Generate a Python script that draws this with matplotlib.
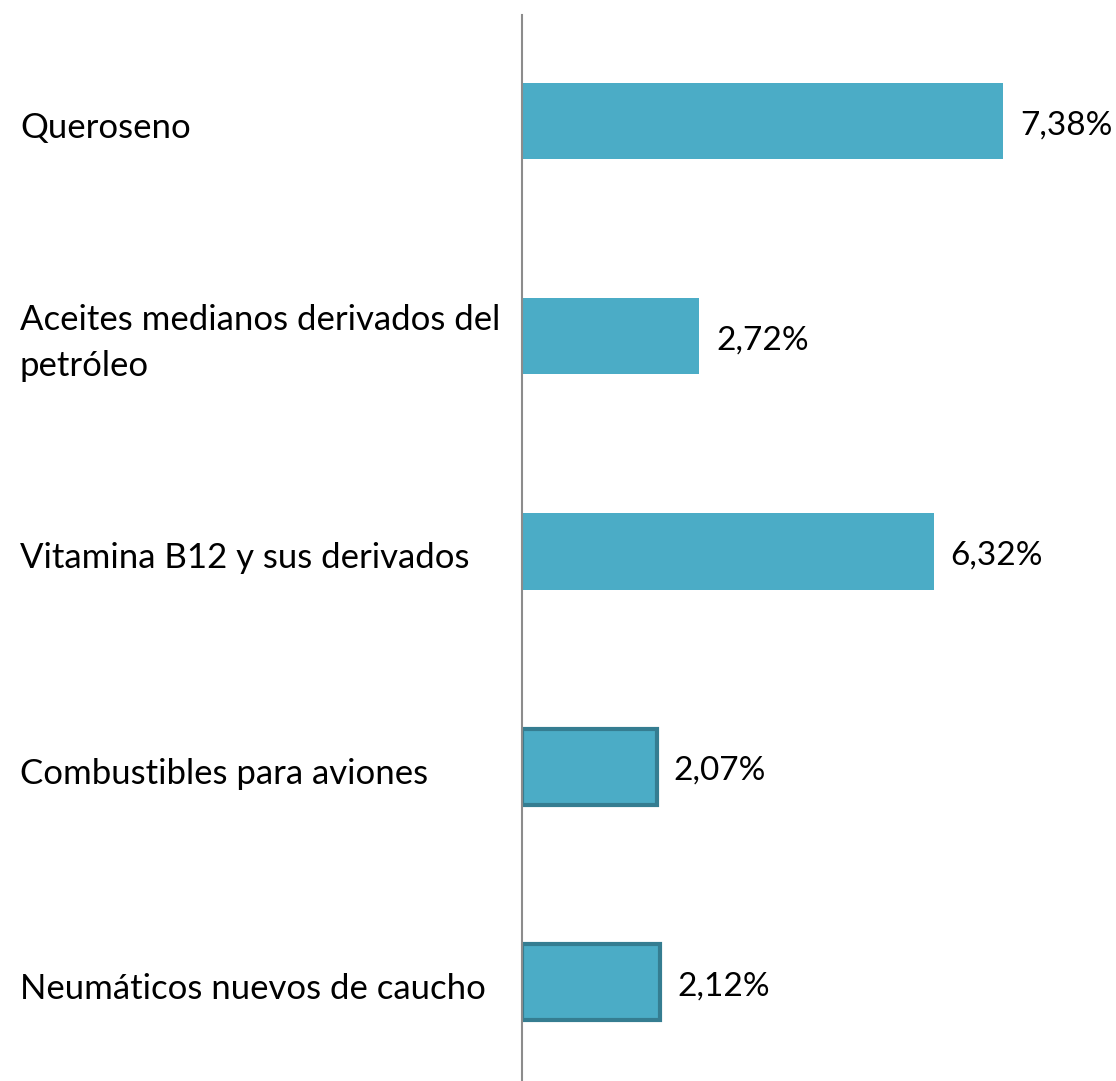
import matplotlib.pyplot as plt
import matplotlib.transforms as mtransforms

# --- données ---
categorias = [
    "Queroseno",
    "Aceites medianos derivados del\npetróleo",
    "Vitamina B12 y sus derivados",
    "Combustibles para aviones",
    "Neumáticos nuevos de caucho",
]
valores = [7.38, 2.72, 6.32, 2.07, 2.12]
etiquetas = ["7,38%", "2,72%", "6,32%", "2,07%", "2,12%"]
con_borde = [False, False, False, True, True]

plt.rcParams["font.family"] = ["Lato", "DejaVu Sans"]

W, H = 1116, 1081
fig = plt.figure(figsize=(W / 100, H / 100), dpi=100)
ax = fig.add_axes([522 / W, 0, 1 - 522 / W, 1 - 15 / H])

for i, v in enumerate(valores):
    if con_borde[i]:
        ax.barh(i, v, height=0.355, color="#4BACC6", edgecolor="#357D91", linewidth=3)
    else:
        ax.barh(i, v, height=0.355, color="#4BACC6", linewidth=0)

ax.set_xlim(0, 594 / 65.2)
ax.set_ylim(4.46, -0.4925)

for s in ["top", "right", "bottom"]:
    ax.spines[s].set_visible(False)
ax.spines["left"].set_color("#8C8C8C")
ax.spines["left"].set_linewidth(1.5)
ax.set_xticks([])
ax.set_yticks([])

# étiquettes de catégories, alignées à gauche
trans = mtransforms.blended_transform_factory(fig.transFigure, ax.transData)
for i, c in enumerate(categorias):
    ax.annotate(c, (20 / W, i), xycoords=trans, xytext=(0, -5), textcoords="offset points",
                ha="left", va="center", fontsize=25, linespacing=1.55,
                annotation_clip=False)

# valeurs au bout des barres
for i, v in enumerate(valores):
    ax.annotate(etiquetas[i], (v, i), xytext=(12, -3), textcoords="offset points",
                ha="left", va="center", fontsize=24, annotation_clip=False)

fig.savefig("out.png", dpi=100)
